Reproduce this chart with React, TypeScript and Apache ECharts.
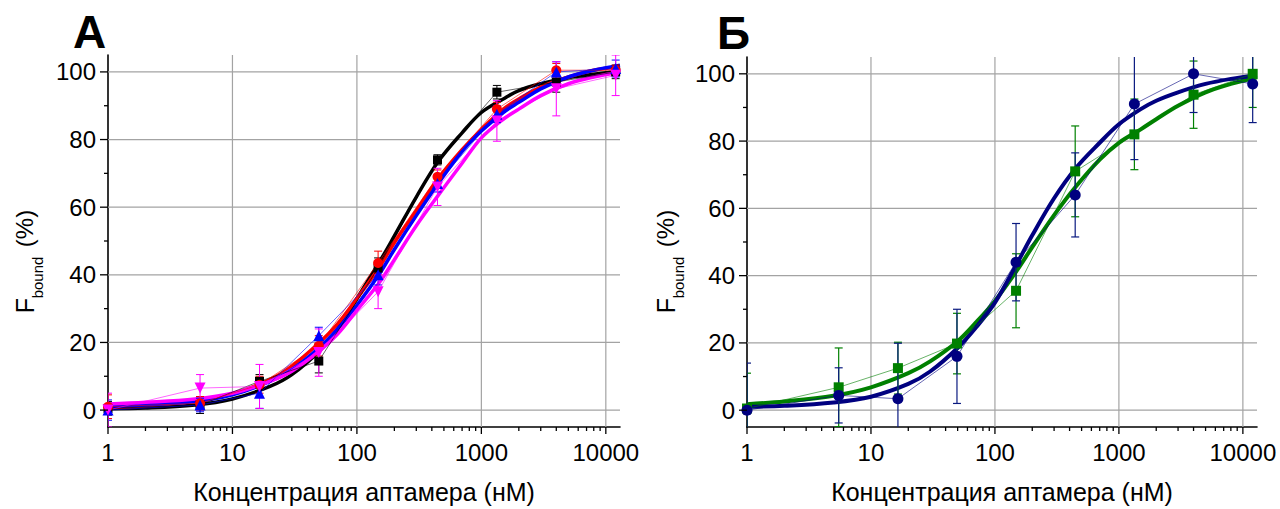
import React, { useEffect, useRef } from "react";
import * as echarts from "echarts";

// ---------- data ----------
const CONC = [1, 5.49, 16.5, 49.4, 148, 444, 1333, 4000, 12000];

const A_BLACK = [0.5, 1.5, 8.5, 14.5, 42, 74, 94, 97, 100];
const A_BLACK_ERR = [2, 2.5, 2, 3.5, 3, 1.5, 2, 3, 2];
const A_RED = [1, 2, 7.5, 19, 43.5, 69, 89, 100.5, 100.5];
const A_RED_ERR = [3.5, 2, 2.5, 3, 3.5, 2, 2, 2, 1.5];
const A_BLUE = [0, 1.5, 5, 22, 40, 67, 87.5, 100, 101];
const A_BLUE_ERR = [3, 2, 4.5, 2.5, 3, 2.5, 2.5, 3, 2.5];
const A_MAG = [0, 6.5, 7, 17, 35, 66, 85.5, 95, 99];
const A_MAG_ERR = [5, 4, 6.5, 7, 5, 5.5, 6, 8, 6];

const B_NAVY = [0, 4.4, 3.4, 16, 44, 64, 91, 100, 97];
const B_NAVY_ERR = [14, 8.2, 16.5, 14, 11.5, 12.5, 16.5, 11.5, 11.5];
const B_GREEN = [0.5, 6.8, 12.5, 19.8, 35.5, 71, 82, 93.8, 100];
const B_GREEN_ERR = [10.5, 11.7, 7.7, 9, 11, 13.5, 10.5, 10, 10];

const FIT_X = [1, 2, 5, 10, 20, 30, 50, 70, 100, 150, 200, 300, 450, 700, 1000, 1500, 2000, 3000, 5000, 8000, 13000];
const A_BLACK_FIT = [0.4, 0.6, 1.5, 3.3, 7, 10.5, 17.5, 24, 33, 43.5, 51.5, 63, 73.5, 82, 88, 92, 94.5, 96.5, 98.3, 99.3, 100.3];
const A_RED_FIT = [0.8, 1.3, 2.6, 4.8, 9, 13, 20, 25.5, 33, 42, 49.5, 59, 68.5, 77, 83, 89, 92, 95.5, 98.5, 100.5, 101.5];
const A_BLUE_FIT = [1, 1.5, 2.5, 4.5, 8.5, 12, 18.5, 24, 31, 40, 47.5, 57.5, 67, 76.5, 82.5, 88, 91, 95, 98.5, 100.5, 102];
const A_MAG_FIT = [1.8, 2.3, 3.3, 5, 8.5, 11.5, 17.5, 22.5, 29.5, 37.5, 44.5, 54.5, 63.5, 73, 80.5, 86, 89, 93, 96.5, 98.5, 100];
const B_NAVY_FIT = [1, 1.3, 2.3, 4, 7.8, 11.5, 18.5, 24.5, 32, 43.5, 52, 63, 72, 79.5, 85, 89.5, 92, 94.5, 97, 98.5, 99.6];
const B_GREEN_FIT = [1.8, 2.6, 4.3, 6.8, 11, 14.5, 20.5, 26, 32.5, 41.5, 48.5, 58, 66.5, 74.5, 79.5, 83.5, 86.5, 90.5, 94.5, 97, 99];

// ---------- axes / ticks ----------
const X_MAJOR = [1, 10, 100, 1000, 10000];
const X_MINOR = [2, 3, 4, 5, 6, 7, 8, 9, 20, 30, 40, 50, 60, 70, 80, 90, 200, 300, 400, 500, 600, 700, 800, 900, 2000, 3000, 4000, 5000, 6000, 7000, 8000, 9000];
const X_GRID = [10, 100, 1000, 10000];
const Y_MAJOR = [0, 20, 40, 60, 80, 100];
const Y_MINOR = [10, 30, 50, 70, 90];
const X_MIN = 1;
const X_MAX = 13000;
const Y_MIN = -5;
const Y_MAX = 105;

const X_NAME = "Концентрация аптамера (нМ)";
const FONT = '"Liberation Sans", Arial, Helvetica, sans-serif';

const pairs = (xs: number[], ys: number[]) => xs.map((x, i) => [x, ys[i]]);
const triples = (xs: number[], ys: number[], es: number[]) => xs.map((x, i) => [x, ys[i], es[i]]);

function errSeries(g: number, xs: number[], ys: number[], es: number[], color: string, width = 1) {
  return {
    type: "custom",
    xAxisIndex: g,
    yAxisIndex: g,
    clip: true,
    silent: true,
    z: 3,
    data: triples(xs, ys, es),
    encode: { x: 0, y: 1 },
    renderItem: (_p: any, api: any) => {
      const x = api.value(0);
      const y = api.value(1);
      const e = api.value(2);
      const t = api.coord([x, y + e]);
      const b = api.coord([x, y - e]);
      const cw = 4;
      const style = { stroke: color, lineWidth: width };
      return {
        type: "group",
        children: [
          { type: "line", shape: { x1: t[0], y1: t[1], x2: b[0], y2: b[1] }, style },
          { type: "line", shape: { x1: t[0] - cw, y1: t[1], x2: t[0] + cw, y2: t[1] }, style },
          { type: "line", shape: { x1: b[0] - cw, y1: b[1], x2: b[0] + cw, y2: b[1] }, style },
        ],
      };
    },
  };
}

function pointSeries(g: number, ys: number[], color: string, symbol: string, size: number, rotate = 0) {
  return {
    type: "line",
    xAxisIndex: g,
    yAxisIndex: g,
    data: pairs(CONC, ys),
    symbol,
    symbolSize: size,
    symbolRotate: rotate,
    showAllSymbol: true,
    silent: true,
    z: 4,
    itemStyle: { color },
    lineStyle: { color, width: 0.8, opacity: 0.75 },
  };
}

function fitSeries(g: number, ys: number[], color: string, width: number, z = 2) {
  return {
    type: "line",
    xAxisIndex: g,
    yAxisIndex: g,
    data: pairs(FIT_X, ys),
    symbol: "none",
    smooth: 0.35,
    silent: true,
    z,
    lineStyle: { color, width },
  };
}

function gridLines(g: number) {
  const style = { stroke: "#a3a3a3", lineWidth: 1.2 };
  return [
    {
      type: "custom",
      xAxisIndex: g,
      yAxisIndex: g,
      silent: true,
      z: 1,
      data: X_GRID.map((v) => [v, 0]),
      encode: { x: 0, y: 1 },
      renderItem: (params: any, api: any) => {
        const cs = params.coordSys;
        const p = api.coord([api.value(0), 0]);
        return { type: "line", shape: { x1: p[0], y1: cs.y, x2: p[0], y2: cs.y + cs.height }, style };
      },
    },
    {
      type: "custom",
      xAxisIndex: g,
      yAxisIndex: g,
      silent: true,
      z: 1,
      data: Y_MAJOR.map((v) => [1, v]),
      encode: { x: 0, y: 1 },
      renderItem: (params: any, api: any) => {
        const cs = params.coordSys;
        const p = api.coord([1, api.value(1)]);
        return { type: "line", shape: { x1: cs.x, y1: p[1], x2: cs.x + cs.width, y2: p[1] }, style };
      },
    },
  ];
}

function tickSeries(g: number) {
  const style = { stroke: "#000", lineWidth: 1.3 };
  const xt = (vals: number[], len: number) => ({
    type: "custom",
    xAxisIndex: g,
    yAxisIndex: g,
    silent: true,
    clip: false,
    z: 5,
    data: vals.map((v) => [v, Y_MIN]),
    encode: { x: 0, y: 1 },
    renderItem: (_p: any, api: any) => {
      const p = api.coord([api.value(0), Y_MIN]);
      return { type: "line", shape: { x1: p[0], y1: p[1], x2: p[0], y2: p[1] + len }, style };
    },
  });
  const yt = (vals: number[], len: number) => ({
    type: "custom",
    xAxisIndex: g,
    yAxisIndex: g,
    silent: true,
    clip: false,
    z: 5,
    data: vals.map((v) => [X_MIN, v]),
    encode: { x: 0, y: 1 },
    renderItem: (_p: any, api: any) => {
      const p = api.coord([X_MIN, api.value(1)]);
      return { type: "line", shape: { x1: p[0] - len, y1: p[1], x2: p[0], y2: p[1] }, style };
    },
  });
  return [xt(X_MAJOR, 7), xt(X_MINOR, 4), yt(Y_MAJOR, 8), yt(Y_MINOR, 4)];
}

function xAxisDef(g: number) {
  return {
    type: "log",
    logBase: 10,
    gridIndex: g,
    min: X_MIN,
    max: X_MAX,
    name: X_NAME,
    nameLocation: "middle",
    nameGap: 52,
    nameTextStyle: { fontSize: 25, color: "#000", fontFamily: FONT },
    axisLine: { show: true, onZero: false, lineStyle: { color: "#000", width: 1.6 } },
    axisTick: { show: false },
    minorTick: { show: false },
    splitLine: { show: false },
    axisLabel: {
      color: "#000",
      fontSize: 24,
      fontFamily: FONT,
      margin: 13,
      showMaxLabel: false,
      formatter: (v: number) => {
        const l = Math.log10(v);
        const r = Math.round(l);
        if (Math.abs(l - r) > 0.01) return "";
        const m = X_MAJOR.find((t) => Math.abs(Math.log10(t) - r) < 0.01);
        return m === undefined ? "" : String(m);
      },
    },
  };
}

function yAxisDef(g: number) {
  return {
    type: "value",
    gridIndex: g,
    min: Y_MIN,
    max: Y_MAX,
    axisLine: { show: true, onZero: false, lineStyle: { color: "#000", width: 1.6 } },
    axisTick: { show: false },
    splitLine: { show: false },
    axisLabel: {
      color: "#000",
      fontSize: 24,
      fontFamily: FONT,
      margin: 12,
      customValues: Y_MAJOR,
      formatter: (v: number) => (Y_MAJOR.indexOf(v) >= 0 ? String(v) : ""),
    },
  };
}

function yNameGraphics(dx: number) {
  const base = { fill: "#000", fontFamily: FONT, align: "center", verticalAlign: "middle", textAlign: "center", textVerticalAlign: "middle" };
  return [
    { type: "text", x: 24.5 + dx, y: 305.5, rotation: Math.PI / 2, silent: true, style: { ...base, text: "F", fontSize: 25 } },
    { type: "text", x: 37.8 + dx, y: 277.5, rotation: Math.PI / 2, silent: true, style: { ...base, text: "bound", fontSize: 15 } },
    { type: "text", x: 24.7 + dx, y: 228.5, rotation: Math.PI / 2, silent: true, style: { ...base, text: "(%)", fontSize: 24 } },
  ];
}

export default function App() {
  const ref = useRef<HTMLDivElement>(null);
  useEffect(() => {
    if (!ref.current) return;
    const chart = echarts.init(ref.current, undefined, { renderer: "svg" });
    const option: any = {
      animation: false,
      backgroundColor: "#fff",
      textStyle: { fontFamily: FONT },
      grid: [
        { left: 108, top: 55, width: 512, height: 376, containLabel: false },
        { left: 747, top: 57, width: 510, height: 375, containLabel: false },
      ],
      xAxis: [xAxisDef(0), xAxisDef(1)],
      yAxis: [yAxisDef(0), yAxisDef(1)],
      graphic: [
        { type: "text", x: 73, y: 31.5, silent: true, style: { text: "А", fontSize: 46, fontWeight: "bold", fontFamily: FONT, fill: "#000", verticalAlign: "middle", textVerticalAlign: "middle" } },
        { type: "text", x: 717, y: 32.5, silent: true, style: { text: "Б", fontSize: 46, fontWeight: "bold", fontFamily: FONT, fill: "#000", verticalAlign: "middle", textVerticalAlign: "middle" } },
        ...yNameGraphics(0),
        ...yNameGraphics(641),
      ],
      series: [
        ...gridLines(0),
        ...gridLines(1),
        ...tickSeries(0),
        ...tickSeries(1),
        // panel A
        errSeries(0, CONC, A_BLACK, A_BLACK_ERR, "#000000"),
        errSeries(0, CONC, A_RED, A_RED_ERR, "#ff0000"),
        errSeries(0, CONC, A_BLUE, A_BLUE_ERR, "#0000ff"),
        errSeries(0, CONC, A_MAG, A_MAG_ERR, "#ff00ff"),
        pointSeries(0, A_BLACK, "#000000", "rect", 9),
        pointSeries(0, A_RED, "#ff0000", "circle", 10),
        pointSeries(0, A_BLUE, "#0000ff", "triangle", 11),
        pointSeries(0, A_MAG, "#ff00ff", "triangle", 11, 180),
        fitSeries(0, A_BLACK_FIT, "#000000", 3.5),
        fitSeries(0, A_RED_FIT, "#ff0000", 3.5),
        fitSeries(0, A_BLUE_FIT, "#0000ff", 3.5),
        fitSeries(0, A_MAG_FIT, "#ff00ff", 3.5),
        // panel B
        errSeries(1, CONC, B_GREEN, B_GREEN_ERR, "#008000", 1.2),
        errSeries(1, CONC, B_NAVY, B_NAVY_ERR, "#0a1a80", 1.2),
        pointSeries(1, B_GREEN, "#008000", "rect", 10),
        pointSeries(1, B_NAVY, "#000080", "circle", 11),
        fitSeries(1, B_GREEN_FIT, "#008000", 4),
        fitSeries(1, B_NAVY_FIT, "#000080", 4),
      ],
    };
    chart.setOption(option);
    return () => chart.dispose();
  }, []);
  return (
    <div
      ref={ref}
      style={{ position: "fixed", left: 0, top: 0, width: 1280, height: 509, background: "#fff" }}
    />
  );
}
